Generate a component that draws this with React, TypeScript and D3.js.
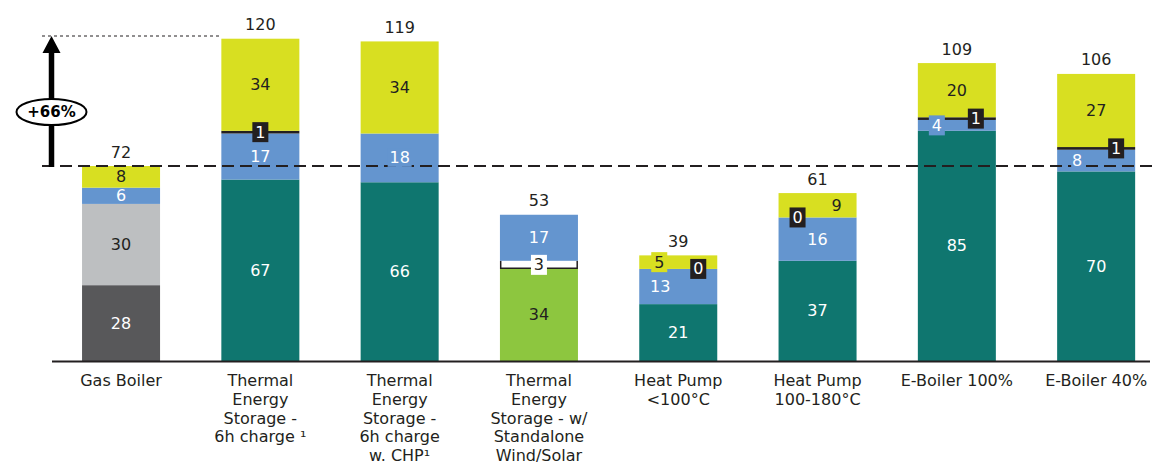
import React from "react";
import * as d3 from "d3";

// Category labels, one entry per line of the axis label
const categoryLines: string[][] = [
  ["Gas Boiler"],
  ["Thermal", "Energy", "Storage -", "6h charge ¹"],
  ["Thermal", "Energy", "Storage -", "6h charge", "w. CHP¹"],
  ["Thermal", "Energy", "Storage - w/", "Standalone", "Wind/Solar"],
  ["Heat Pump", "<100°C"],
  ["Heat Pump", "100-180°C"],
  ["E-Boiler 100%"],
  ["E-Boiler 40%"],
];
const categories = categoryLines.map((l) => l.join(" "));

// Cost components, stacked bottom to top (null = not present)
const gasFuel = [28, null, null, null, null, null, null, null];
const carbon = [30, null, null, null, null, null, null, null];
const renewables = [null, null, null, 34, null, null, null, null];
const electricity = [null, 67, 66, null, 21, 37, 85, 70];
const backup = [null, null, null, 3, null, null, null, null];
const capex = [6, 17, 18, 17, 13, 16, 4, 8];
const opex = [null, 1, null, null, 0, 0, 1, 1];
const gridFees = [8, 34, 34, null, 5, 9, 20, 27];

const totals = [72, 120, 119, 53, 39, 61, 109, 106];
const increaseLabel = "+66%";

const seriesKeys = ["gasFuel", "carbon", "renewables", "electricity", "backup", "capex", "opex", "gridFees"];
const seriesValues: Record<string, (number | null)[]> = {
  gasFuel, carbon, renewables, electricity, backup, capex, opex, gridFees,
};

const fills: Record<string, string> = {
  gasFuel: "#58585a",
  carbon: "#bdbfc1",
  renewables: "#8dc63f",
  electricity: "#0f766f",
  backup: "#ffffff",
  capex: "#6495cf",
  opex: "#231f20",
  gridFees: "#d8df21",
};
const textColors: Record<string, string> = {
  gasFuel: "#ffffff",
  carbon: "#231f20",
  renewables: "#231f20",
  electricity: "#ffffff",
  backup: "#231f20",
  capex: "#ffffff",
  opex: "#ffffff",
  gridFees: "#231f20",
};

// horizontal nudges for labels that would otherwise collide
const labelShift: Record<string, number> = {
  "Heat Pump <100°C|gridFees": -19,
  "Heat Pump <100°C|capex": -18,
  "Heat Pump <100°C|opex": 20,
  "Heat Pump 100-180°C|opex": -20,
  "Heat Pump 100-180°C|gridFees": 19,
  "E-Boiler 100%|capex": -20,
  "E-Boiler 100%|opex": 19,
  "E-Boiler 40%|capex": -19,
  "E-Boiler 40%|opex": 20,
};
// labels that sit on a background patch over the reference line
const knockout = new Set([
  "Thermal Energy Storage - 6h charge w. CHP¹|capex",
  "E-Boiler 40%|capex",
]);

const W = 1153;
const H = 468;
const FONT = "'DejaVu Sans', sans-serif";
const FS = 16;

export default function App() {
  const x = d3
    .scaleBand<string>()
    .domain(categories)
    .range([51.4, 1165.8])
    .paddingInner(0.44)
    .paddingOuter(0.22);
  const y = d3.scaleLinear().domain([0, 120]).range([361, 36]);

  const rows = categories.map((c, i) => {
    const r: Record<string, number | string> = { cat: c };
    seriesKeys.forEach((k) => (r[k] = seriesValues[k][i] ?? 0));
    return r;
  });
  const stacked = d3.stack<Record<string, number | string>>().keys(seriesKeys)(rows as any);

  const bw = x.bandwidth();
  const baseY = y(totals[0]);
  const maxIdx = totals.indexOf(d3.max(totals) as number);
  const maxY = y(totals[maxIdx]);
  const arrowX = 51.5;

  const segments: React.ReactNode[] = [];
  const labels: React.ReactNode[] = [];

  stacked.forEach((layer) => {
    const key = layer.key;
    layer.forEach((d, i) => {
      const cat = categories[i];
      const v = seriesValues[key][i];
      if (v === null) return;
      const x0 = x(cat)!;
      const yTop = y(d[1]);
      const yBot = y(d[0]);
      const h = yBot - yTop;
      if (v > 0) {
        segments.push(
          <rect key={`s-${key}-${i}`} x={x0} y={yTop} width={bw} height={h} fill={fills[key]} />
        );
        if (key === "backup") {
          segments.push(
            <path
              key={`b-${i}`}
              d={`M${x0 + 0.75},${yTop} V${yBot - 0.75} H${x0 + bw - 0.75} V${yTop}`}
              fill="none"
              stroke="#231f20"
              strokeWidth={1.5}
            />
          );
        }
      }
      const cx = x0 + bw / 2 + (labelShift[`${cat}|${key}`] ?? 0);
      const cy = (yTop + yBot) / 2;
      const text = String(v);
      const boxed = key === "opex" || key === "backup" || h < 15;
      const knock = knockout.has(`${cat}|${key}`);
      labels.push(
        <g key={`l-${key}-${i}`}>
          {boxed && (
            <rect x={cx - 8} y={cy - 10} width={16} height={20} fill={fills[key]} />
          )}
          {knock && (
            <rect x={cx - text.length * 6} y={cy - 9} width={text.length * 12} height={18} fill={fills[key]} />
          )}
          <text
            x={cx}
            y={cy}
            textAnchor="middle"
            dominantBaseline="central"
            fontSize={FS}
            fill={textColors[key]}
          >
            {text}
          </text>
        </g>
      );
    });
  });

  const tops = stacked[stacked.length - 1].map((d) => d[1]);

  return (
    <svg width={W} height={H} style={{ display: "block", position: "absolute", left: 0, top: 0 }} fontFamily={FONT}>
      <rect width={W} height={H} fill="#ffffff" />
      {segments}

      {/* reference lines: baseline level and highest total */}
      <line x1={42} x2={x(categories[maxIdx])!} y1={maxY} y2={maxY} stroke="#231f20" strokeWidth={1} strokeDasharray="3 3" />
      <line x1={42} x2={W} y1={baseY} y2={baseY} stroke="#231f20" strokeWidth={2} strokeDasharray="12 6" />

      {labels}

      {/* totals */}
      {categories.map((c, i) => (
        <text key={`t-${i}`} x={x(c)! + bw / 2} y={y(tops[i]) - 8.5} textAnchor="middle" fontSize={FS} fill="#231f20">
          {totals[i]}
        </text>
      ))}

      {/* increase arrow */}
      <line x1={arrowX} x2={arrowX} y1={baseY + 1} y2={maxY + 14} stroke="#000" strokeWidth={5.5} />
      <path d={`M${arrowX},${maxY} L${arrowX + 9},${maxY + 17} L${arrowX - 9},${maxY + 17} Z`} fill="#000" />
      <ellipse cx={arrowX} cy={(baseY + maxY) / 2 + 11} rx={35} ry={13} fill="#fff" stroke="#000" strokeWidth={2} />
      <text
        x={arrowX}
        y={(baseY + maxY) / 2 + 11}
        textAnchor="middle"
        dominantBaseline="central"
        fontSize={15}
        fontWeight="bold"
        fill="#000"
      >
        {increaseLabel}
      </text>

      {/* axis */}
      <line x1={52} x2={1150} y1={361.5} y2={361.5} stroke="#231f20" strokeWidth={2} />
      {categoryLines.map((lines, i) =>
        lines.map((ln, j) => (
          <text
            key={`c-${i}-${j}`}
            x={x(categories[i])! + bw / 2}
            y={386 + j * 18.8}
            textAnchor="middle"
            fontSize={FS}
            fill="#231f20"
          >
            {ln}
          </text>
        ))
      )}
    </svg>
  );
}
